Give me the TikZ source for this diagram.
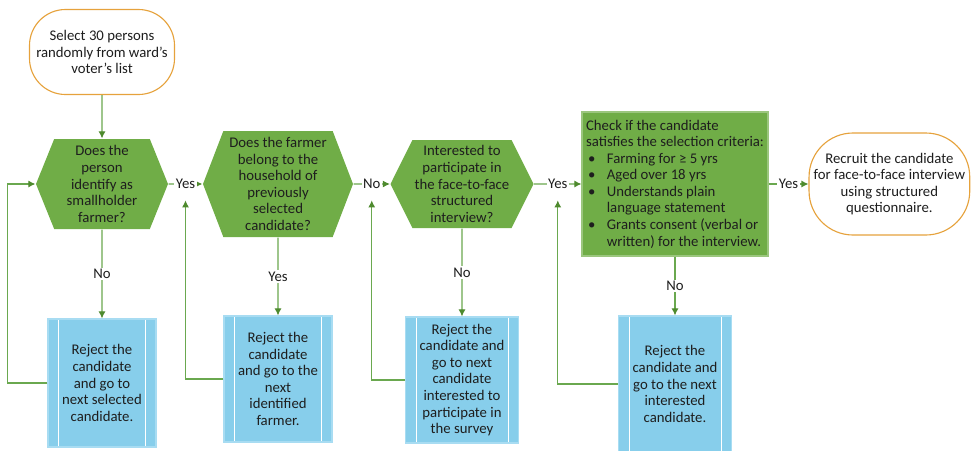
\documentclass[tikz,border=0pt]{standalone}
\usepackage{fontspec}
\setmainfont{Carlito}
\usetikzlibrary{arrows.meta,positioning,shapes.symbols}
\definecolor{hexgreen}{HTML}{70AD47}
\definecolor{linegreen}{HTML}{6AA84F}
\definecolor{tipgreen}{HTML}{4E8A2E}
\definecolor{boxblue}{HTML}{87CEEB}
\definecolor{boxedge}{HTML}{A8DCF2}
\definecolor{termorange}{HTML}{E6A23C}
\definecolor{txt}{HTML}{1E1E1E}
\newcommand{\critbul}{\makebox[0.52cm][l]{\hspace{0.05cm}\textbullet}}
\newcommand{\critind}{\hspace*{0.52cm}}

\begin{document}
\begin{tikzpicture}[->,>={Latex[length=5pt,width=5pt,color=tipgreen]},thick,color=linegreen,
                every node/.style={font=\fontsize{10.5}{11.8}\selectfont,text=txt},
                term node/.style={rectangle,draw=termorange,fill=white,align=center},
                hex node/.style={signal,signal to=west and east,fill=hexgreen,draw=none,align=center,inner sep=1pt},
                check node/.style={rectangle,fill=hexgreen,draw=hexgreen!70!white,align=left,inner sep=2pt,
                    minimum width=4.65cm,minimum height=3.6cm},
                reject node/.style={rectangle,fill=boxblue,draw=boxedge,align=center,
                    path picture={\draw[-,white,thin]
                        ([xshift=0.26cm]path picture bounding box.north west) -- ([xshift=0.26cm]path picture bounding box.south west)
                        ([xshift=-0.26cm]path picture bounding box.north east) -- ([xshift=-0.26cm]path picture bounding box.south east);}},
                lab/.style={fill=white,inner sep=1pt}]
            \useasboundingbox (0,0) rectangle (24.35,-11.25);
            \node[hex node,minimum width=3.3cm,minimum height=2.25cm,signal pointer angle=136] (h1) at (2.55,-4.6)
                {Does the\\person\\identify as\\smallholder\\farmer?};
            \node[term node,rounded corners=0.9cm,minimum width=3.625cm,minimum height=2.125cm] (start)
                [node distance=3.3cm,above of=h1] {Select 30 persons\\randomly from ward’s\\voter’s list};
            \node[hex node,minimum width=3.75cm,minimum height=2.65cm,signal pointer angle=138] (h2)
                [node distance=4.4cm,right of=h1] {Does the farmer\\belong to the\\household of\\previously\\selected\\candidate?};
            \node[hex node,minimum width=3.575cm,minimum height=2.2cm,signal pointer angle=127] (h3)
                [node distance=4.6cm,right of=h2] {Interested to\\participate in\\the face-to-face\\structured\\interview?};
            \node[check node] (chk) [node distance=5.325cm,right of=h3]
                {Check if the candidate\\satisfies the selection criteria:\\
                 \critbul Farming for ≥ 5 yrs\\
                 \critbul Aged over 18 yrs\\
                 \critbul Understands plain\\
                 \critind language statement\\
                 \critbul Grants consent (verbal or\\
                 \critind written) for the interview.};
            \node[term node,rounded corners=1.1cm,minimum width=3.725cm,minimum height=2.55cm] (end)
                [node distance=5.36cm,right of=chk] {Recruit the candidate\\for face-to-face interview\\using structured\\questionnaire.};
            \node[reject node,minimum width=2.7cm,minimum height=3.2cm] (b1) [node distance=4.975cm,below of=h1]
                {Reject the\\candidate\\and go to\\next selected\\candidate.};
            \node[reject node,minimum width=2.7cm,minimum height=3.15cm] (b2) [node distance=4.875cm,below of=h2]
                {Reject the\\candidate\\and go to the\\next\\identified\\farmer.};
            \node[reject node,minimum width=2.82cm,minimum height=3.15cm] (b3) [node distance=4.9cm,below of=h3]
                {Reject the\\candidate and\\go to next\\candidate\\interested to\\participate in\\the survey};
            \node[reject node,minimum width=2.82cm,minimum height=3.4cm] (b4) [node distance=5cm,below of=chk]
                {Reject the\\candidate and\\go to the next\\interested\\candidate.};
            \path
                (start) edge (h1)
                (h1) edge node[lab] (y1) {Yes} (h2)
                (h2) edge node[lab] (n2) {No} (h3)
                (h3) edge node[lab] (y3) {Yes} (chk)
                (chk) edge node[lab] {Yes} (end)
                (h1) edge node[lab] {No} (b1)
                (h2) edge node[lab] {Yes} (b2)
                (h3) edge node[lab] {No} (b3)
                (chk) edge node[lab] {No} (b4);
            % back to the previous question
            \draw (b1.west) -- ++(-1,0) |- (h1.west);
            \draw[shorten >=0.24cm] (b2.west) -| (y1.south);
            \draw[shorten >=0.24cm] (b3.west) -| (n2.south);
            \draw[shorten >=0.24cm] (b4.west) -| (y3.south);
        \end{tikzpicture}
\end{document}
